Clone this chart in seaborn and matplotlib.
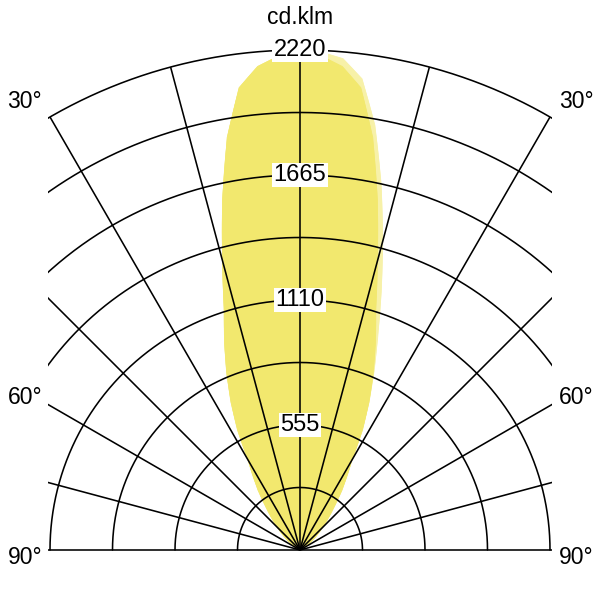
import numpy as np
import pandas as pd
import matplotlib
matplotlib.use("Agg")
import matplotlib.pyplot as plt
import seaborn as sns
from matplotlib.patches import Rectangle

# ---------------- data ----------------
angles_deg = [0, 2.5, 5, 7.5, 10, 12.5, 15, 17.5, 20, 22.5, 25, 27.5, 30,
              35, 40, 45, 50, 55, 60, 65, 70, 75, 80, 85, 90]
c0_c180 = [2220, 2195, 2155, 2070, 1860, 1590, 1330, 1120, 980, 850, 725, 600, 462,
           325, 215, 144, 90, 50, 25, 10, 3, 0, 0, 0, 0]
c90_c270_left = [2220, 2195, 2155, 2070, 1860, 1590, 1330, 1120, 980, 850, 725, 600, 462,
                 325, 215, 144, 90, 50, 25, 10, 3, 0, 0, 0, 0]
c90_c270_right = [2220, 2212, 2190, 2110, 1915, 1665, 1420, 1200, 1010, 860, 725, 600, 462,
                  325, 215, 144, 90, 50, 25, 10, 3, 0, 0, 0, 0]

ring_max = 2220
ring_step = 277.5
ring_labels = [555, 1110, 1665, 2220]
spoke_step = 15
angle_labels = ["30°", "60°", "90°"]
angle_label_y_px = [101, 397, 557]
unit_label = "cd.klm"

dark_yellow = "#F2E86E"
pale_yellow = "#F7F1A8"

# ---------------- style ----------------
sns.set_theme(style="white")
plt.rcParams["font.family"] = ["Liberation Sans", "DejaVu Sans"]
plt.rcParams["text.color"] = "black"

W = H = 600
fig = plt.figure(figsize=(6, 6), dpi=100)
fig.patch.set_facecolor("white")
# half-disc polar axes: centre at (300, 550) px, radius 500 px
ax = fig.add_axes([-200 / W, -200 / H, 1000 / W, 1000 / H], projection="polar")
ax.set_theta_zero_location("N")
ax.set_theta_direction(-1)
ax.set_thetamin(-90)
ax.set_thetamax(90)
ax.set_rlim(0, ring_max)
ax.axis("off")

clip_rect = Rectangle((48 / W, 0), 504 / W, 1, transform=fig.transFigure)


def full_curve(left, right, name):
    a = np.array(angles_deg, dtype=float)
    theta = np.deg2rad(np.concatenate([-a[::-1], a[1:]]))
    r = np.concatenate([np.array(left, float)[::-1], np.array(right, float)[1:]])
    return pd.DataFrame({"theta": theta, "r": r, "plane": name})


df = pd.concat([
    full_curve(c90_c270_left, c90_c270_right, "C90-C270"),
    full_curve(c0_c180, c0_c180, "C0-C180"),
], ignore_index=True)

z = 1.0
for plane, col in [("C90-C270", pale_yellow), ("C0-C180", dark_yellow)]:
    sub = df[df["plane"] == plane]
    poly = ax.fill(sub["theta"], sub["r"], color=col, lw=0, zorder=z)[0]
    poly.get_path()._interpolation_steps = 8
    sns.lineplot(data=sub, x="theta", y="r", sort=False, estimator=None, color=col,
                 lw=0.6, legend=False, ax=ax, zorder=z + 0.1)
    z += 0.2

# ---------------- grid ----------------
th = np.linspace(-np.pi / 2, np.pi / 2, 721)
n_rings = int(round(ring_max / ring_step))
for k in range(1, n_rings + 1):
    ln, = ax.plot(th, np.full_like(th, k * ring_step), color="black", lw=1.15, zorder=3)
    ln.set_clip_path(clip_rect)
for a in range(-90, 91, spoke_step):
    ln, = ax.plot([np.deg2rad(a)] * 2, [0, ring_max], color="black", lw=1.15, zorder=3,
                  solid_capstyle="butt")
    ln.set_clip_path(clip_rect)

for v in ring_labels:
    ax.text(0, v, str(v), ha="center", va="center", fontsize=17, color="black",
            zorder=5, bbox=dict(facecolor="white", edgecolor="none", pad=1.0))

# ---------------- labels ----------------
for lab, ypx in zip(angle_labels, angle_label_y_px):
    fig.text(42 / W, 1 - ypx / H, lab, ha="right", va="center", fontsize=16.5, color="black")
    fig.text(559 / W, 1 - ypx / H, lab, ha="left", va="center", fontsize=16.5, color="black")
fig.text(0.5, 1 - 17 / H, unit_label, ha="center", va="center", fontsize=16.5, color="black")

fig.savefig("out.png", dpi=100, facecolor="white")
